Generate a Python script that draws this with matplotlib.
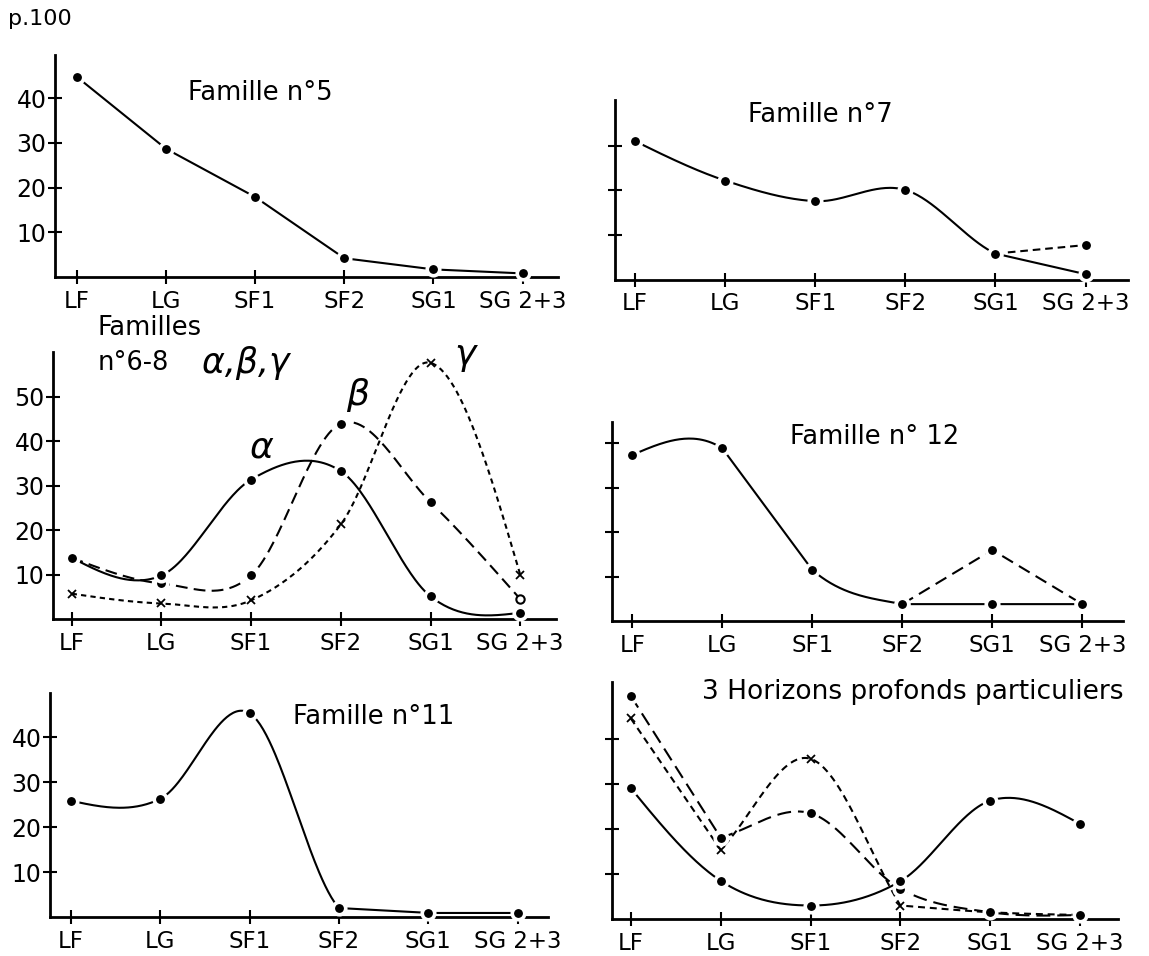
import numpy as np
import matplotlib
matplotlib.use("Agg")
import matplotlib.pyplot as plt

plt.rcParams["font.family"] = ["DejaVu Sans"]
plt.rcParams["lines.scale_dashes"] = False

# ---- data (percentages, p.100) ----
horizons = ["LF", "LG", "SF1", "SF2", "SG1", "SG 2+3"]
nan = np.nan

famille_5 = [44.8, 28.7, 17.9, 4.2, 1.7, 0.8]

famille_7 = [31.0, 22.2, 17.6, 20.1, 5.9, 1.3]
famille_7_var = [nan, nan, nan, nan, 5.9, 7.8]

fam68_alpha = [13.8, 9.8, 31.4, 33.3, 5.1, 1.4]
fam68_beta = [13.8, 8.0, 9.8, 44.0, 26.3, 4.5]
fam68_gamma = [5.7, 3.5, 4.2, 21.3, 57.7, 10.0]

famille_12 = [37.4, 38.9, 11.5, 3.8, 3.8, 3.8]
famille_12_var = [nan, nan, nan, 3.8, 16.0, 3.8]

famille_11 = [25.9, 26.3, 45.4, 2.0, 0.9, 0.9]

horizon_a = [29.1, 8.5, 3.0, 8.4, 26.3, 21.1]
horizon_b = [49.6, 18.1, 23.5, 6.7, 1.5, 0.9]
horizon_c = [44.6, 15.4, 35.6, 3.0, 1.5, 0.9]

W, H = 1149, 956
fig = plt.figure(figsize=(W / 100, H / 100), dpi=100)
fig.patch.set_facecolor("white")

LW = 1.5
TICK_FS = 16.5
YTICK_FS = 17
TITLE_FS = 18.5


def smooth_curve(values, corners=(), straight=(), n=60):
    """Cubic Hermite (Catmull-Rom style) curve through the points."""
    v = np.asarray(values, float)
    idx = np.flatnonzero(~np.isnan(v))
    xs = idx.astype(float)
    ys = v[idx]
    k = len(ys)
    mL = np.zeros(k)
    mR = np.zeros(k)
    for i in range(1, k - 1):
        if idx[i] in corners:
            mL[i] = ys[i] - ys[i - 1]
            mR[i] = ys[i + 1] - ys[i]
        else:
            mL[i] = mR[i] = (ys[i + 1] - ys[i - 1]) / 2
    if k > 2:
        mR[0] = (3 * (ys[1] - ys[0]) - mL[1]) / 2
        mL[-1] = (3 * (ys[-1] - ys[-2]) - mR[-2]) / 2
    else:
        mR[0] = mL[-1] = ys[-1] - ys[0]
    t = np.linspace(0, 1, n)
    h00 = 2 * t**3 - 3 * t**2 + 1
    h10 = t**3 - 2 * t**2 + t
    h01 = -2 * t**3 + 3 * t**2
    h11 = t**3 - t**2
    px, py = [], []
    for s in range(k - 1):
        if idx[s] in straight:
            yy = ys[s] + (ys[s + 1] - ys[s]) * t
        else:
            yy = h00 * ys[s] + h10 * mR[s] + h01 * ys[s + 1] + h11 * mL[s + 1]
        px.append(xs[s] + (xs[s + 1] - xs[s]) * t)
        py.append(yy)
    return np.concatenate(px), np.concatenate(py)


def panel(left, right, bottom, top, x0, dx, pxu, yticks, ylabels=True):
    ax = fig.add_axes([left / W, 1 - bottom / H, (right - left) / W, (bottom - top) / H])
    ax.set_xlim((left - x0) / dx, (right - x0) / dx)
    ax.set_ylim(0, (bottom - top) / pxu)
    for side in ("top", "right"):
        ax.spines[side].set_visible(False)
    for side in ("left", "bottom"):
        ax.spines[side].set_linewidth(2.0)
    ax.set_xticks(range(len(horizons)))
    ax.set_xticklabels(horizons, fontsize=TICK_FS)
    ax.set_yticks(yticks)
    if ylabels:
        ax.set_yticklabels([str(v) for v in yticks], fontsize=YTICK_FS)
    else:
        ax.set_yticklabels([])
    ax.tick_params(axis="x", direction="inout", length=10, width=1.5, pad=4)
    ax.tick_params(axis="y", direction="inout", length=10, width=1.5, pad=1)
    ax.patch.set_alpha(0)
    return ax


def draw(ax, values, dashes=None, marker="dot", corners=(), straight=(), mark_at=None, zl=2):
    x, y = smooth_curve(values, corners, straight)
    kw = dict(color="black", lw=LW, solid_capstyle="butt", zorder=zl)
    if dashes:
        ax.plot(x, y, dashes=dashes, **kw)
    else:
        ax.plot(x, y, **kw)
    v = np.asarray(values, float)
    pts = np.flatnonzero(~np.isnan(v))
    if mark_at is not None:
        pts = [p for p in pts if p in mark_at]
    if marker is None or len(pts) == 0:
        return
    pts = np.asarray(pts)
    if marker == "dot":
        ax.plot(pts, v[pts], ls="none", marker="o", ms=9, mfc="black",
                mec="white", mew=2.6, zorder=5, clip_on=False)
    elif marker == "x":
        ax.plot(pts, v[pts], ls="none", marker="x", ms=6, mec="black",
                mew=1.3, zorder=5, clip_on=False)


def label(x, y, s, size=TITLE_FS, ha="left", **kw):
    fig.text(x / W, 1 - y / H, s, fontsize=size, ha=ha, va="center", **kw)


# ---- Famille n°5 ----
ax1 = panel(55, 558, 277, 55, 76.7, 89.2, 4.47, [10, 20, 30, 40])
draw(ax1, famille_5, straight=range(6))
label(188, 93, "Famille n°5")
label(8, 19, "p.100", size=16)

# ---- Famille n°7 ----
ax2 = panel(615, 1128, 280, 100, 635, 90.1, 4.48, [10, 20, 30], ylabels=False)
draw(ax2, famille_7, straight=(4,))
draw(ax2, famille_7_var, dashes=(5.5, 3.5), straight=(4,))
label(748, 115, "Famille n°7")

# ---- Familles n°6-8 ----
ax3 = panel(53, 556, 619, 352, 71.7, 89.7, 4.44, [10, 20, 30, 40, 50])
draw(ax3, fam68_gamma, dashes=(3.8, 3.0), marker="x")
draw(ax3, fam68_beta, dashes=(8.5, 4.5), mark_at=range(5))
draw(ax3, fam68_alpha)
ax3.plot([5], [fam68_beta[5]], ls="none", marker="o", ms=6, mfc="white",
         mec="black", mew=1.5, zorder=6, clip_on=False)
label(98, 328, "Familles")
label(98, 363, "n°6-8")
label(202, 363, "α,β,γ", size=25, style="italic")
label(262, 447, "α", size=26, ha="center", style="italic")
label(358, 395, "β", size=26, ha="center", style="italic")
label(465, 355, "γ", size=26, ha="center", style="italic")

# ---- Famille n° 12 ----
ax4 = panel(612, 1123, 621, 422, 632.3, 90, 4.44, [10, 20, 30, 40], ylabels=False)
draw(ax4, famille_12, straight=(1, 3, 4))
draw(ax4, famille_12_var, dashes=(9.0, 5.0), straight=(3, 4))
label(790, 437, "Famille n° 12")

# ---- Famille n°11 ----
ax5 = panel(50, 548, 917, 693, 70.7, 89.4, 4.49, [10, 20, 30, 40])
draw(ax5, famille_11, straight=(3, 4))
label(293, 717, "Famille n°11")

# ---- 3 Horizons profonds particuliers ----
ax6 = panel(612, 1118, 919, 682, 630.7, 89.9, 4.5, [10, 20, 30, 40], ylabels=False)
draw(ax6, horizon_c, dashes=(5.0, 3.5), marker="x", corners=(1, 3), mark_at=range(4))
draw(ax6, horizon_b, dashes=(10.0, 5.0), corners=(1,))
draw(ax6, horizon_a)
label(702, 692, "3 Horizons profonds particuliers", size=19)

fig.savefig("out.png", dpi=100, facecolor="white")
